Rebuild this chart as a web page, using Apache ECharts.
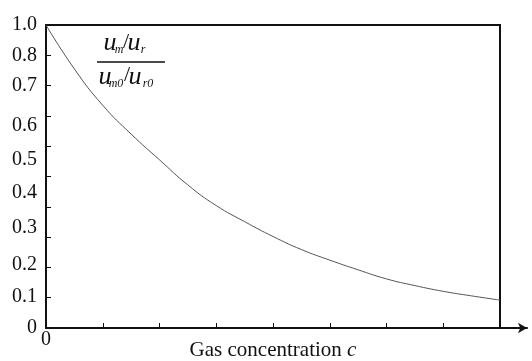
<!DOCTYPE html>
<html>
<head>
<meta charset="utf-8">
<script src="https://cdn.jsdelivr.net/npm/echarts@6/dist/echarts.min.js"></script>
<style>html,body{margin:0;padding:0;background:#fff;}#c{width:532px;height:361px;}</style>
</head>
<body>
<div id="c"></div>
<script>
// Gas concentration (arbitrary units, 0..8 tick intervals)
var concentration = [0, 0.5, 1, 1.5, 2, 2.5, 3, 3.5, 4, 4.5, 5, 5.5, 6, 6.5, 7, 7.5, 8];
// normalised ratio (u_m/u_r)/(u_m0/u_r0)
var ratio = [1.0, 0.855, 0.735, 0.64, 0.555, 0.472, 0.404, 0.351, 0.302, 0.259, 0.224, 0.192, 0.162, 0.140, 0.121, 0.106, 0.092];
// y tick labels as printed, and the axis values at which they sit in the figure
var yLabelText = ['0', '0.1', '0.2', '0.3', '0.4', '0.5', '0.6', '0.7', '0.8', '1.0'];
var yLabelAt = [0, 0.102, 0.208, 0.330, 0.446, 0.554, 0.667, 0.799, 0.898, 1.0];
var xLabelText = ['0'];
var xLabelAt = [0];

var serif = '"Liberation Serif", "Times New Roman", serif';
var ink = '#111';

var data = concentration.map(function (c, i) { return [c, ratio[i]]; });

function piece(text, x, y, size, italic) {
  return {
    type: 'text', x: x, y: y, silent: true,
    style: {
      text: text, fill: ink,
      font: (italic ? 'italic ' : '') + size + 'px ' + serif,
      align: 'center', verticalAlign: 'middle'
    }
  };
}

var chart = echarts.init(document.getElementById('c'), null, {renderer: 'canvas'});
chart.setOption({
  animation: false,
  backgroundColor: '#fff',
  grid: [
    {left: 46, right: 32, top: 25, bottom: 33, show: true, borderColor: ink, borderWidth: 2, containLabel: false, outerBoundsMode: 'none'},
    {left: 46, right: 5, top: 25, bottom: 33, show: false, containLabel: false, outerBoundsMode: 'none'}
  ],
  xAxis: [
    {
      gridIndex: 0, type: 'value', min: 0, max: 8, interval: 1,
      axisLine: {show: true, lineStyle: {color: ink, width: 2}},
      axisTick: {show: true, inside: true, length: 5, lineStyle: {color: ink, width: 1}},
      axisLabel: {
        show: true, margin: 2, customValues: xLabelAt,
        formatter: function (v) { var k = xLabelAt.indexOf(v); return k >= 0 ? xLabelText[k] : ''; },
        color: ink, fontFamily: serif, fontSize: 20
      },
      splitLine: {show: false},
      name: 'Gas concentration {i|c}', nameLocation: 'middle', nameGap: 12, nameMoveOverlap: false,
      nameTextStyle: {color: ink, fontFamily: serif, fontSize: 21,
        rich: {i: {fontStyle: 'italic', fontFamily: serif, fontSize: 21, color: ink}}}
    },
    {
      gridIndex: 1, type: 'value', min: 0, max: 1,
      axisLine: {show: true, symbol: ['none', 'arrow'], symbolSize: [8, 9], lineStyle: {color: ink, width: 2}},
      axisTick: {show: false}, axisLabel: {show: false}, splitLine: {show: false}
    }
  ],
  yAxis: [
    {
      gridIndex: 0, type: 'value', min: 0, max: 1, interval: 0.1,
      axisLine: {show: true, lineStyle: {color: ink, width: 2}},
      axisTick: {show: true, inside: true, length: 5, lineStyle: {color: ink, width: 1}},
      axisLabel: {
        show: true, margin: 9, customValues: yLabelAt,
        formatter: function (v) { var k = yLabelAt.indexOf(v); return k >= 0 ? yLabelText[k] : ''; },
        color: ink, fontFamily: serif, fontSize: 20
      },
      splitLine: {show: false}
    },
    {gridIndex: 1, type: 'value', min: 0, max: 1, show: false}
  ],
  series: [{
    type: 'line', xAxisIndex: 0, yAxisIndex: 0, data: data,
    smooth: true, symbol: 'none', silent: true,
    lineStyle: {color: '#555', width: 1}
  }],
  graphic: [
    piece('u', 110, 43, 26, true),
    piece('m', 119, 50, 12, true),
    piece('/', 126, 42, 22, false),
    piece('u', 134, 43, 26, true),
    piece('r', 143, 50, 12, true),
    {type: 'line', silent: true, shape: {x1: 97, y1: 62, x2: 165, y2: 62}, style: {stroke: ink, lineWidth: 1.5}},
    piece('u', 105, 77, 26, true),
    piece('m0', 116, 84, 12, true),
    piece('/', 127, 75, 22, false),
    piece('u', 135, 77, 26, true),
    piece('r0', 148, 84, 12, true)
  ]
});
</script>
</body>
</html>
